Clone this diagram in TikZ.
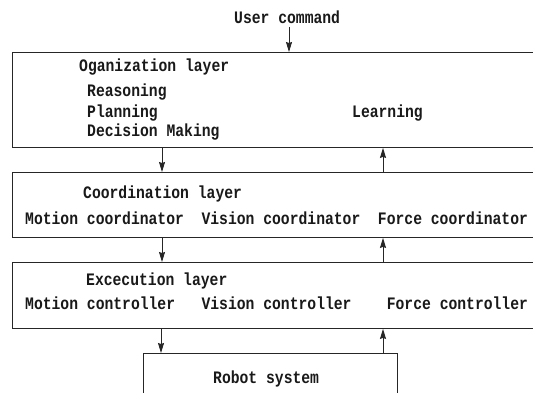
\documentclass[tikz,border=0pt]{standalone}
\usepackage{fontspec}
\newfontfamily\lblmono[FakeStretch=0.84]{Liberation Mono}
\usetikzlibrary{arrows.meta,calc}
\tikzset{
  txt/.style={anchor=base west, inner sep=0pt, font=\lblmono\bfseries\fontsize{17.5}{20}\selectfont, text=black!90},
  layer/.style={draw=black!85, line width=0.9pt, anchor=north west, inner sep=0pt},
  conn/.style={draw=black!85, line width=0.9pt, -{Stealth[length=10pt,width=6pt,inset=1pt]}}
}
\begin{document}
\begin{tikzpicture}[x=1pt,y=-1pt]
\useasboundingbox (0,0) rectangle (533,393);
\fill[white] (0,0) rectangle (533,393);
\clip (0,0) rectangle (533,393);
% layers
\node[layer, minimum width=540pt, minimum height=95pt] (org) at (12,52) {};
\node[layer, minimum width=540pt, minimum height=65pt] (coord) at (12,172) {};
\node[layer, minimum width=540pt, minimum height=66pt] (exec) at (12,262) {};
\node[layer, minimum width=254pt, minimum height=60pt] (robot) at (143,353) {};
% texts
\node[txt] (user) at (234,24) {User command};
\node[txt] (orgt) at (79,72) {Oganization layer};
\node[txt] (reas) at (87,96.5) {Reasoning};
\node[txt] (plan) at (87,118) {Planning};
\node[txt] (dec) at (87,137) {Decision Making};
\node[txt] (learn) at (352,118) {Learning};
\node[txt] (coordt) at (83,198) {Coordination layer};
\node[txt] (coordl) at (25,224) {Motion coordinator\ \ Vision coordinator\ \ Force coordinator};
\node[txt] (exect) at (86,285) {Excecution layer};
\node[txt] (execl) at (25,309) {Motion controller\ \ \ Vision controller\ \ \ \ Force controller};
\node[txt] (robt) at (213,383) {Robot system};
% connector columns
\coordinate (cu) at (289,27);
\coordinate (cd) at (162,0);
\coordinate (cup) at (383,0);
\coordinate (rd) at (161,0);
% connectors
\draw[conn] (cu) -- (org.north -| cu);
\draw[conn] (org.south -| cd) -- (coord.north -| cd);
\draw[conn] (coord.north -| cup) -- (org.south -| cup);
\draw[conn] (coord.south -| cd) -- (exec.north -| cd);
\draw[conn] (exec.north -| cup) -- (coord.south -| cup);
\draw[conn] (exec.south -| rd) -- (robot.north -| rd);
\draw[conn] (robot.north -| cup) -- (exec.south -| cup);
\end{tikzpicture}
\end{document}
